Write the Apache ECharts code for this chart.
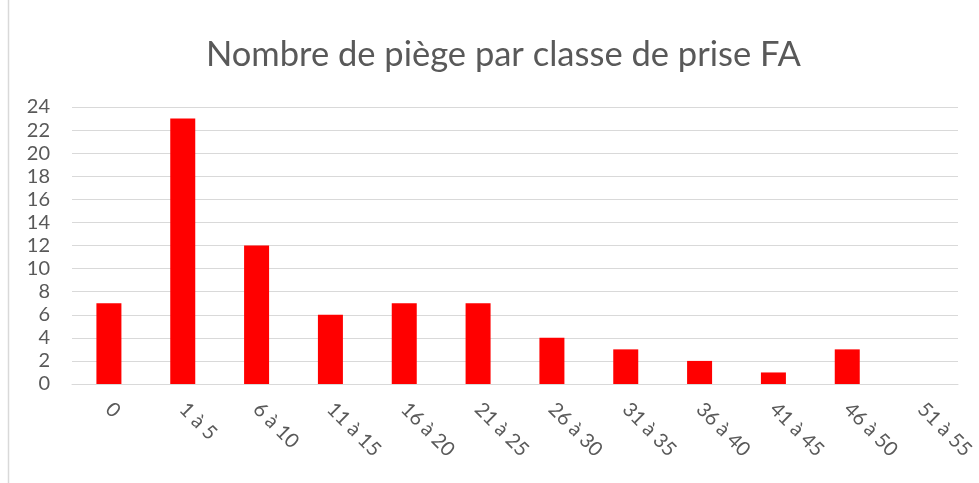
<!DOCTYPE html>
<html><head><meta charset="utf-8">
<script src="https://cdn.jsdelivr.net/npm/echarts@6/dist/echarts.min.js"></script>
<style>html,body{margin:0;padding:0;background:#fff;}#c{width:979px;height:483px;}</style>
</head><body><div id="c"></div>
<script>
const categories = ['0','1 à 5','6 à 10','11 à 15','16 à 20','21 à 25','26 à 30','31 à 35','36 à 40','41 à 45','46 à 50','51 à 55'];
const values = [7,23,12,6,7,7,4,3,2,1,3,0];
const titleText = 'Nombre de piège par classe de prise FA';
const chart = echarts.init(document.getElementById('c'));
chart.setOption({
  animation:false,
  graphic:[{type:'rect',shape:{x:8.5,y:-2,width:990,height:490},style:{fill:'none',stroke:'#d9d9d9',lineWidth:1.5}}],
  title:{text:titleText,left:201,top:32,textStyle:{fontFamily:'Lato',fontSize:34.5,fontWeight:'normal',color:'#595959'}},
  grid:{left:72,right:21,top:107,bottom:99,containLabel:false},
  xAxis:{type:'category',data:categories,
    axisLine:{lineStyle:{color:'#d9d9d9',width:1}},axisTick:{show:false},
    axisLabel:{rotate:-45,margin:22,interval:0,fontFamily:'Lato',fontSize:20,color:'#595959'}},
  yAxis:{type:'value',min:0,max:24,interval:2,
    axisLine:{show:false},axisTick:{show:false},
    splitLine:{lineStyle:{color:'#d9d9d9',width:1}},
    axisLabel:{margin:22,fontFamily:'Lato',fontSize:20,color:'#595959'}},
  series:[{type:'bar',data:values,barWidth:25,itemStyle:{color:'#ff0000'}}]
});
</script></body></html>
